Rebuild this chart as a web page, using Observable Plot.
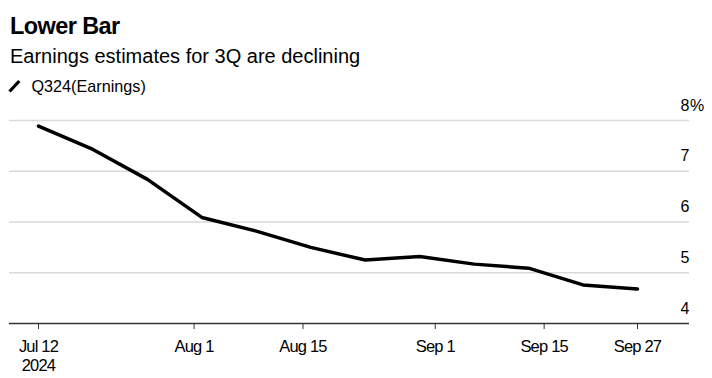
<!DOCTYPE html>
<html>
<head>
<meta charset="utf-8">
<script src="https://cdn.jsdelivr.net/npm/d3@7"></script>
<script src="https://cdn.jsdelivr.net/npm/@observablehq/plot@0.6"></script>
<style>
  html, body { margin: 0; padding: 0; background: #fff; }
  body { width: 712px; height: 378px; position: relative; overflow: hidden; font-family: "Liberation Sans", Arial, sans-serif; color: #000; }
  .t { position: absolute; left: 10px; line-height: 1; white-space: nowrap; }
  #title { top: 15px; font-size: 23.5px; font-weight: bold; letter-spacing: -0.6px; }
  #subtitle { top: 46.2px; font-size: 20px; }
  #legend { top: 78px; left: 31.5px; font-size: 16.2px; }
  #legicon { position: absolute; left: 0; top: 76px; }
  #chart { position: absolute; left: 0; top: 95px; }
  #chart g[aria-label="x-axis tick label"] text { letter-spacing: -0.8px; }
</style>
</head>
<body>
<div class="t" id="title">Lower Bar</div>
<div class="t" id="subtitle">Earnings estimates for 3Q are declining</div>
<svg id="legicon" width="26" height="20"><line x1="9.5" y1="15.5" x2="19.3" y2="5" stroke="#000" stroke-width="3.2"/></svg>
<div class="t" id="legend">Q324(Earnings)</div>
<div id="chart"></div>
<script>
const dates = ["2024-07-12","2024-07-19","2024-07-26","2024-08-02","2024-08-09","2024-08-16","2024-08-23","2024-08-30","2024-09-06","2024-09-13","2024-09-20","2024-09-27"];
const earnings = [7.89, 7.43, 6.84, 6.09, 5.82, 5.50, 5.25, 5.32, 5.17, 5.09, 4.76, 4.68];
const xTickDates = ["2024-07-12","2024-08-01","2024-08-15","2024-09-01","2024-09-15","2024-09-27"];
const xTickLabels = ["Jul 12\n2024","Aug 1","Aug 15","Sep 1","Sep 15","Sep 27"];
const yTicks = [4, 5, 6, 7, 8];

const data = dates.map((d, i) => ({date: new Date(d), value: earnings[i]}));
const xTicks = xTickDates.map(d => new Date(d));
const labelMap = new Map(xTicks.map((d, i) => [+d, xTickLabels[i]]));

const chart = Plot.plot({
  width: 712,
  height: 283,
  marginTop: 25,
  marginBottom: 55,
  marginLeft: 9,
  marginRight: 23,
  style: {fontFamily: "'Liberation Sans', Arial, sans-serif", background: "white", overflow: "visible"},
  x: {type: "utc", domain: [new Date(Date.UTC(2024, 6, 8, 6, 33)), new Date(Date.UTC(2024, 9, 3, 16, 25))], axis: null},
  y: {domain: [4, 8], axis: null},
  marks: [
    Plot.gridY([5, 6, 7, 8], {stroke: "#d9d9d9", strokeOpacity: 1, strokeWidth: 1.4}),
    Plot.ruleY([4], {stroke: "#333", strokeWidth: 1.5}),
    Plot.lineY(data, {x: "date", y: "value", stroke: "#000", strokeWidth: 3.5, strokeLinejoin: "round"}),
    Plot.axisX(xTicks, {
      tickSize: 6, tickPadding: 10, stroke: "#333",
      tickFormat: d => labelMap.get(+d),
      fontSize: 16.5,
      lineHeight: 1.1, fill: "#000"
    }),
    Plot.text(yTicks, {y: d => d, text: d => String(d), frameAnchor: "right", textAnchor: "end", lineAnchor: "bottom", dy: -10, fontSize: 16, fill: "#000"}),
    Plot.text([8], {y: d => d, text: () => "%", frameAnchor: "right", textAnchor: "start", lineAnchor: "bottom", dy: -10, dx: 0.5, fontSize: 16, fill: "#000"})
  ]
});
document.getElementById("chart").appendChild(chart);
</script>
</body>
</html>
